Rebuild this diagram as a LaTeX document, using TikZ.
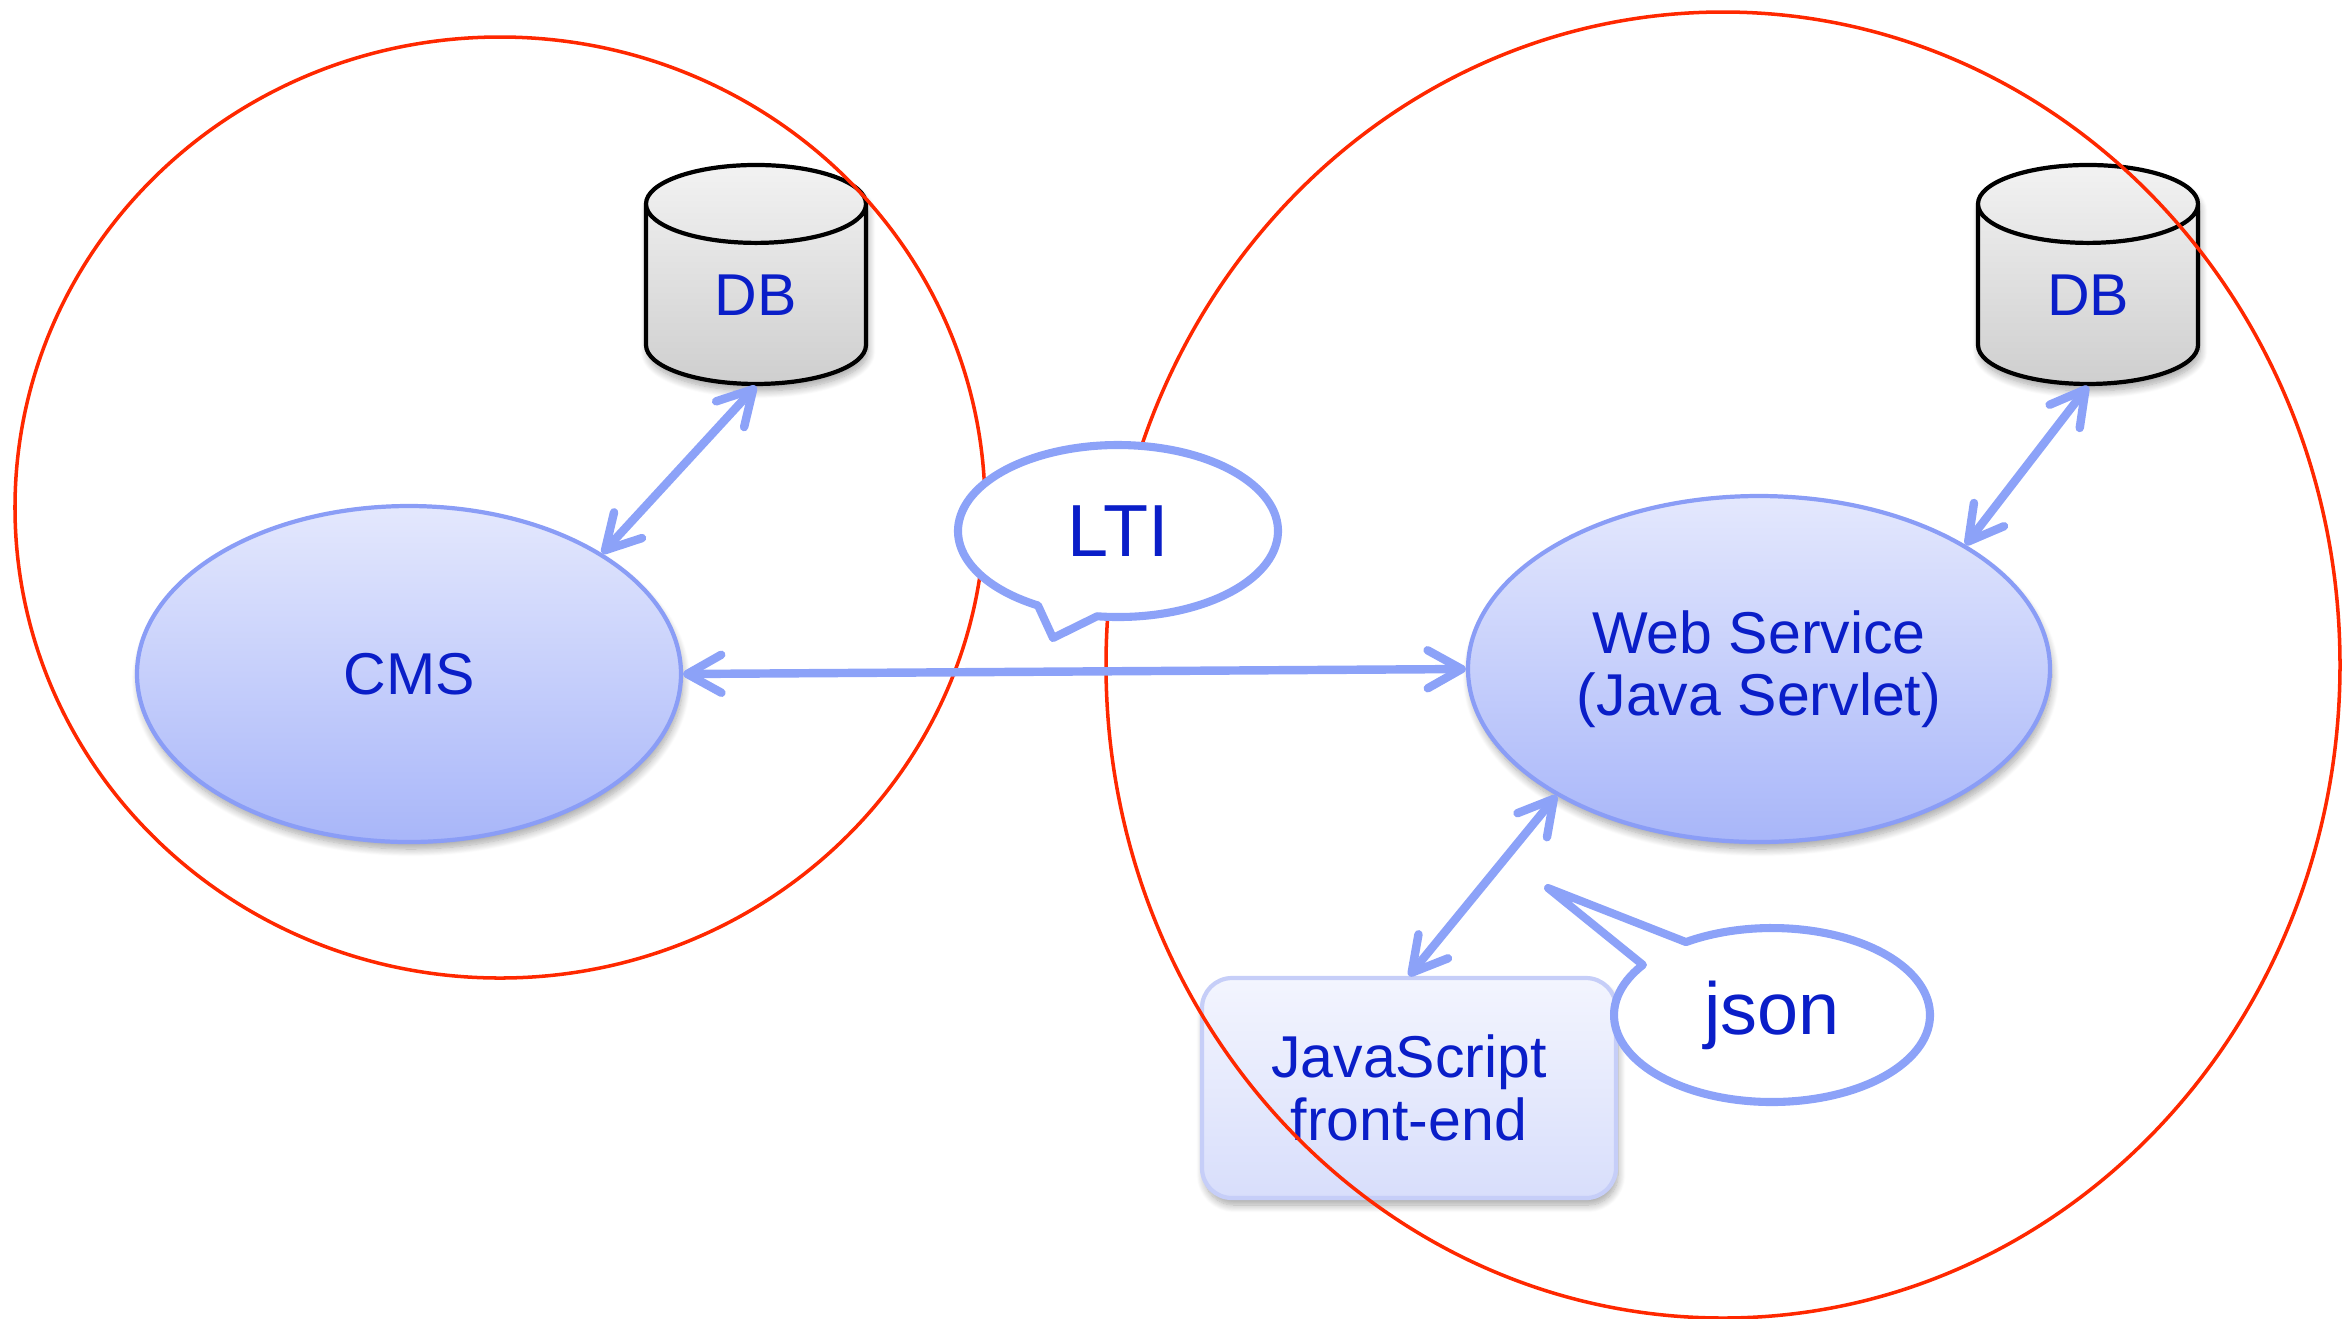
\documentclass[tikz,border=0pt]{standalone}
\usepackage{fontspec}
\setmainfont{Liberation Sans}
\usetikzlibrary{shapes.geometric,arrows.meta,shadows.blur}

\definecolor{labelblue}{RGB}{10,30,200}
\definecolor{linkblue}{RGB}{140,162,248}
\definecolor{nodetop}{RGB}{228,232,253}
\definecolor{nodebot}{RGB}{168,182,249}
\definecolor{nodeline}{RGB}{138,157,246}
\definecolor{boxtop}{RGB}{243,245,254}
\definecolor{boxbot}{RGB}{216,222,251}
\definecolor{boxline}{RGB}{198,206,248}
\definecolor{zonered}{RGB}{255,40,0}

\tikzset{
  softshadow/.style={blur shadow={shadow xshift=0.02cm, shadow yshift=-0.07cm, shadow blur steps=10, shadow opacity=35}},
  label/.style={text=labelblue, font=\fontsize{16.8}{17.8}\selectfont, align=center},
  service/.style={label, ellipse, draw=nodeline, line width=1.2pt, top color=nodetop, bottom color=nodebot, inner sep=0pt, softshadow},
  database/.style={label, cylinder, shape border rotate=90, aspect=0.95, draw=black, line width=1.2pt,
    top color=gray!10, bottom color=gray!38, minimum width=2.2cm, minimum height=2.19cm, inner sep=0pt, softshadow},
  frontend/.style={label, rectangle, rounded corners=0.3cm, draw=boxline, line width=1.2pt,
    top color=boxtop, bottom color=boxbot, minimum width=4.14cm, minimum height=2.2cm, softshadow},
  link/.style={draw=linkblue, line width=2.4pt, line cap=round, >={Straight Barb[round,length=0.34cm,width=0.38cm]}, <->},
  zone/.style={draw=zonered, line width=1pt},
  bubble/.style={draw=linkblue, fill=white, line width=2.3pt, line join=round},
  bubbletext/.style={text=labelblue, font=\fontsize{21}{24}\selectfont},
}

\begin{document}
\begin{tikzpicture}
    \useasboundingbox (0,0) rectangle (23.49,-13.18);

    % boxes
    \node[frontend] (js) at (14.09,-10.88) {JavaScript\\front-end};
    \node[database] (db1) at (7.56,-2.95) {DB};
    \node[database] (db2) at (20.88,-2.95) {DB};
    \node[service, minimum width=5.44cm, minimum height=3.36cm] (cms) at (4.09,-6.74) {CMS};
    \node[service, minimum width=5.82cm, minimum height=3.46cm] (ws) at (17.59,-6.69) {Web Service\\(Java Servlet)};

    % the two sides
    \draw[zone] (5.00,-5.075) ellipse [x radius=4.85, y radius=4.705];
    \draw[zone] (17.23,-6.65) ellipse [x radius=6.17, y radius=6.53];

    % links
    \draw[link] (cms.east) -- (ws.west);
    \draw[link] (db1.south) -- (cms.32);
    \draw[link] (db2.south) -- (ws.31);
    \draw[link] (ws.212) -- (js.north);

    % callouts
    \coordinate (lti c) at (11.18,-5.31);
    \coordinate (lti tip) at (10.53,-6.38);
    \draw[bubble] ([shift={(262.5:1.6 and 0.86)}]lti c) arc[start angle=262.5, end angle=600, x radius=1.6, y radius=0.86] -- (lti tip) -- cycle;
    \node[bubbletext] (lti) at (lti c) {LTI};

    \coordinate (json c) at (17.72,-10.15);
    \coordinate (json tip) at (15.48,-8.88);
    \draw[bubble] ([shift={(144.8:1.58 and 0.87)}]json c) arc[start angle=144.8, end angle=483, x radius=1.58, y radius=0.87] -- (json tip) -- cycle;
    \node[bubbletext] (json) at (json c) {json};
\end{tikzpicture}
\end{document}
